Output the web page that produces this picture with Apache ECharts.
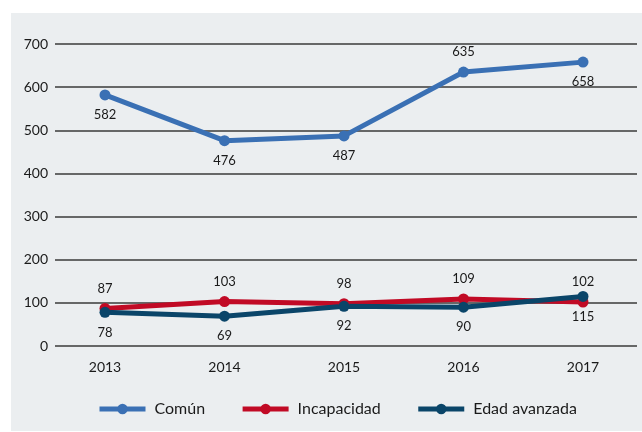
<!DOCTYPE html>
<html><head><meta charset="utf-8">
<script src="https://cdn.jsdelivr.net/npm/echarts@6/dist/echarts.min.js"></script>
<style>html,body{margin:0;padding:0;background:#fff}#bg{position:absolute;left:11px;top:13px;width:631px;height:418px;background:#ebeef0}#c{position:absolute;left:0;top:0;width:642px;height:432px}</style>
</head><body><div id="bg"></div><div id="c"></div>
<script>
const years = ['2013','2014','2015','2016','2017'];
const comun = [582, 476, 487, 635, 658];
const incapacidad = [87, 103, 98, 109, 102];
const edadAvanzada = [78, 69, 92, 90, 115];
const yTicks = [0, 100, 200, 300, 400, 500, 600, 700];

const comunPos = ['bottom','bottom','bottom','top','bottom'];
const FONT = 'Lato, "Open Sans", sans-serif';
const C1 = '#3a70b4', C2 = '#c10a25', C3 = '#0a4569';

const chart = echarts.init(document.getElementById('c'), null, {renderer:'canvas'});
function lineSeries(name, data, color, positions) {
  return {
    name, type: 'line', xAxisIndex: 1, yAxisIndex: 1,
    data: data.map((v,i)=>({value:v, label:{position: positions[i]}})),
    symbol: 'circle', symbolSize: 11,
    lineStyle: {width: 5, color}, itemStyle: {color},
    label: {show: true, color: '#1a1a1a', fontFamily: FONT, fontSize: 13, distance: 8},
    emphasis: {disabled: true}, animation: false
  };
}
chart.setOption({
  animation: false,
  textStyle: {fontFamily: FONT},
  grid: [
    {left: 55, right: 5, top: 44, bottom: 86},
    {left: 105, right: 59, top: 44, bottom: 86}
  ],
  legend: {
    top: 396, left: 92, itemWidth: 46, itemHeight: 13, itemGap: 35,
    lineStyle: {width: 5},
    textStyle: {fontFamily: FONT, fontSize: 16, color: '#1a1a1a', padding: [0,0,0,4]},
    data: ['Común','Incapacidad','Edad avanzada']
  },
  xAxis: [
    {gridIndex: 0, type: 'value', min: 0, max: 1, show: false},
    {gridIndex: 1, type: 'category', data: years, boundaryGap: false,
     axisLine: {show: false}, axisTick: {show: false},
     axisLabel: {color: '#1a1a1a', fontSize: 14, margin: 14, fontFamily: FONT}}
  ],
  yAxis: [
    {gridIndex: 0, type: 'value', min: 0, max: 700, interval: 100,
     axisLine: {show: false}, axisTick: {show: false},
     axisLabel: {color: '#1a1a1a', fontSize: 14, margin: 7, fontFamily: FONT,
       formatter: v => yTicks.includes(v) ? String(v) : ''},
     splitLine: {lineStyle: {color: '#3a3a3a', width: 1.5}}},
    {gridIndex: 1, type: 'value', min: 0, max: 700, interval: 100, show: false, splitLine: {show: false}}
  ],
  series: [
    lineSeries('Común', comun, C1, comunPos),
    lineSeries('Incapacidad', incapacidad, C2, ['top','top','top','top','top']),
    lineSeries('Edad avanzada', edadAvanzada, C3, ['bottom','bottom','bottom','bottom','bottom'])
  ]
});
</script></body></html>
